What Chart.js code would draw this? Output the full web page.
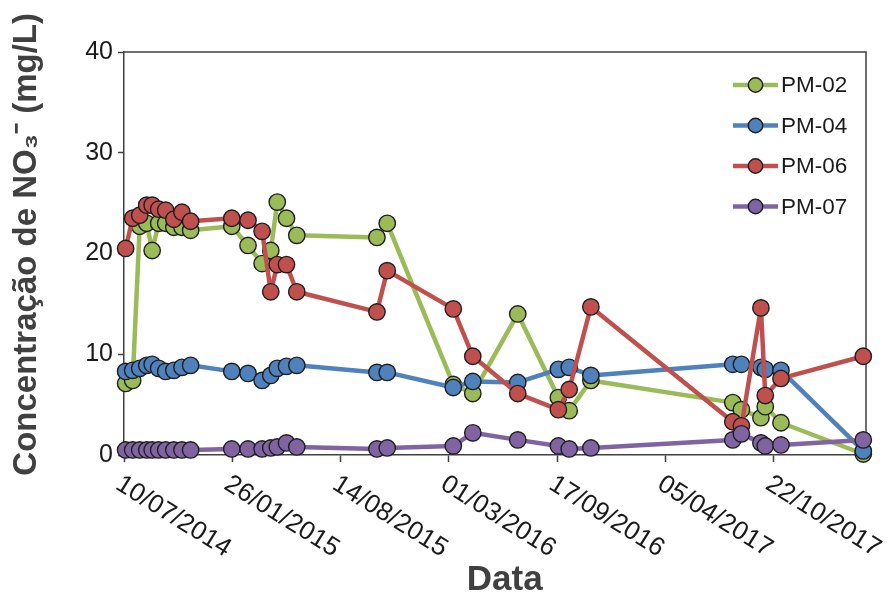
<!DOCTYPE html>
<html>
<head>
<meta charset="utf-8">
<script src="https://cdn.jsdelivr.net/npm/chart.js@4.4.1/dist/chart.umd.min.js"></script>
<style>
  html,body{margin:0;padding:0;background:#fff}
  canvas{display:block}
</style>
</head>
<body>
<canvas id="chart" width="893" height="598"></canvas>
<script>
// sampling dates (dd/mm/yyyy) and NO3- values per well
const dates = [
  '13/07/2014','26/07/2014','08/08/2014','21/08/2014','31/08/2014','12/09/2014','25/09/2014','10/10/2014','25/10/2014','10/11/2014',
  '25/01/2015','24/02/2015','22/03/2015','07/04/2015','19/04/2015','06/05/2015','25/05/2015',
  '20/10/2015','08/11/2015','09/03/2016','14/04/2016','06/07/2016','19/09/2016','09/10/2016','18/11/2016',
  '07/08/2017','23/08/2017','28/09/2017','06/10/2017','04/11/2017','05/04/2018'
];
const pm02 = [7.1,7.4,22.7,23.0,20.3,23.0,23.0,22.6,22.6,22.3, 22.7,20.8,19.0,20.3,25.1,23.5,21.8, 21.6,23.0,7.0,6.1,14.0,5.7,4.4,7.4, 5.2,4.5,3.7,4.8,3.2,0.1];
const pm04 = [8.3,8.4,8.6,8.9,9.0,8.6,8.3,8.4,8.7,8.9, 8.3,8.1,7.4,7.9,8.6,8.8,8.9, 8.2,8.2,6.7,7.3,7.2,8.5,8.7,7.9, 9.0,9.0,8.7,8.5,8.4,0.4];
const pm06 = [20.5,23.5,23.8,24.8,24.8,24.4,24.3,23.4,24.1,23.2, 23.5,23.3,22.2,16.2,18.9,18.9,16.2, 14.2,18.3,14.5,9.8,6.1,4.5,6.5,14.7, 3.3,2.9,14.6,5.9,7.6,9.8];
const pm07 = [0.5,0.5,0.5,0.5,0.5,0.5,0.5,0.5,0.5,0.5, 0.6,0.6,0.6,0.7,0.8,1.2,0.8, 0.6,0.7,0.9,2.2,1.5,0.9,0.6,0.7, 1.5,2.1,1.2,0.9,1.0,1.5];

const seriesNames = ['PM-02','PM-04','PM-06','PM-07'];
const seriesColors = ['#9BBB59','#4F81BD','#C0504D','#8064A2'];
const yTicks = [0,10,20,30,40];
const xTickLabels = ['10/07/2014','26/01/2015','14/08/2015','01/03/2016','17/09/2016','05/04/2017','22/10/2017'];
const xMin = '10/07/2014', xMax = '10/04/2018';

const FONT = '"Liberation Sans", Arial, sans-serif';

function toDay(s){ const [d,m,y] = s.split('/').map(Number); return Date.UTC(y,m-1,d)/864e5; }

const series = [pm02, pm04, pm06, pm07];
const datasets = series.map((vals,i)=>({
  label: seriesNames[i],
  data: dates.map((d,j)=>({x: toDay(d), y: vals[j]})),
  borderColor: seriesColors[i],
  backgroundColor: seriesColors[i],
  pointBackgroundColor: seriesColors[i],
  pointBorderColor: '#1f1f1f',
  pointBorderWidth: 1.4,
  pointRadius: 8.2,
  borderWidth: 4.5,
  borderJoinStyle: 'round',
  tension: 0,
  clip: false,
  order: series.length - i   // later series on top, like the original
}));

// legend drawn inside the plot, line + marker sample
const insideLegend = {
  id: 'insideLegend',
  afterDraw(chart){
    const ctx = chart.ctx;
    ctx.save();
    chart.data.datasets.forEach((ds,i)=>{
      const y = 85 + i*40.5;
      ctx.strokeStyle = ds.borderColor; ctx.lineWidth = 4.5;
      ctx.beginPath(); ctx.moveTo(733,y); ctx.lineTo(778,y); ctx.stroke();
      ctx.beginPath(); ctx.arc(755.5,y,7.2,0,Math.PI*2);
      ctx.fillStyle = ds.borderColor; ctx.fill();
      ctx.lineWidth = 1.4; ctx.strokeStyle = '#1f1f1f'; ctx.stroke();
      ctx.fillStyle = '#1a1a1a'; ctx.font = '22.5px ' + FONT;
      ctx.textAlign = 'left'; ctx.textBaseline = 'middle';
      ctx.fillText(ds.label, 781, y+1);
    });
    ctx.restore();
  }
};

// top/right frame of the plot area + slanted date labels
const frameAndLabels = {
  id: 'frameAndLabels',
  beforeDatasetsDraw(chart){
    const {ctx, chartArea:a} = chart;
    ctx.save();
    ctx.strokeStyle = '#404040'; ctx.lineWidth = 1.5;
    ctx.beginPath(); ctx.moveTo(a.left,a.top); ctx.lineTo(a.right,a.top); ctx.lineTo(a.right,a.bottom); ctx.stroke();
    ctx.restore();
  },
  afterDraw(chart){
    const ctx = chart.ctx, sc = chart.scales.x;
    ctx.save();
    ctx.fillStyle = '#1a1a1a'; ctx.font = '26px ' + FONT;
    ctx.textAlign = 'left'; ctx.textBaseline = 'top';
    sc.ticks.forEach((t,i)=>{
      const px = sc.getPixelForValue(t.value);
      ctx.save();
      ctx.translate(px + 1, sc.top + 16);
      ctx.rotate(32*Math.PI/180);
      ctx.fillText(xTickLabels[i], 0, 0);
      ctx.restore();
    });
    ctx.restore();
  }
};

new Chart(document.getElementById('chart'), {
  type: 'line',
  data: { datasets },
  options: {
    responsive: false,
    animation: false,
    layout: { padding: { top: 52, right: 27, left: 0, bottom: 0 } },
    plugins: { legend: { display: false }, tooltip: { enabled: false } },
    scales: {
      x: {
        type: 'linear',
        min: toDay(xMin), max: toDay(xMax),
        afterBuildTicks: sc => { sc.ticks = xTickLabels.map(s=>({value: toDay(s)})); },
        afterFit: sc => { sc.height = 143; },
        ticks: { display: false },
        grid: { drawOnChartArea: false, drawTicks: true, tickLength: 7, tickColor: '#404040', tickWidth: 1.5 },
        border: { display: true, color: '#404040', width: 1.5 },
        title: { display: true, text: '  Data', color: '#404040',
                 font: { family: FONT, size: 35, weight: 'bold', lineHeight: 1 }, padding: { top: 0, bottom: 0 } }
      },
      y: {
        min: 0, max: 40,
        afterBuildTicks: sc => { sc.ticks = yTicks.map(v=>({value: v})); },
        afterFit: sc => { sc.width = 124; },
        ticks: { color: '#1a1a1a', font: { family: FONT, size: 25 }, padding: 5 },
        grid: { drawOnChartArea: false, drawTicks: true, tickLength: 6, tickColor: '#404040', tickWidth: 1.5 },
        border: { display: true, color: '#404040', width: 1.5 },
        title: { display: true, text: '  Concentração de NO₃⁻ (mg/L)', color: '#404040',
                 font: { family: FONT, size: 33, weight: 'bold', lineHeight: 1 }, padding: { top: 10, bottom: 0 } }
      }
    }
  },
  plugins: [insideLegend, frameAndLabels]
});
</script>
</body>
</html>
